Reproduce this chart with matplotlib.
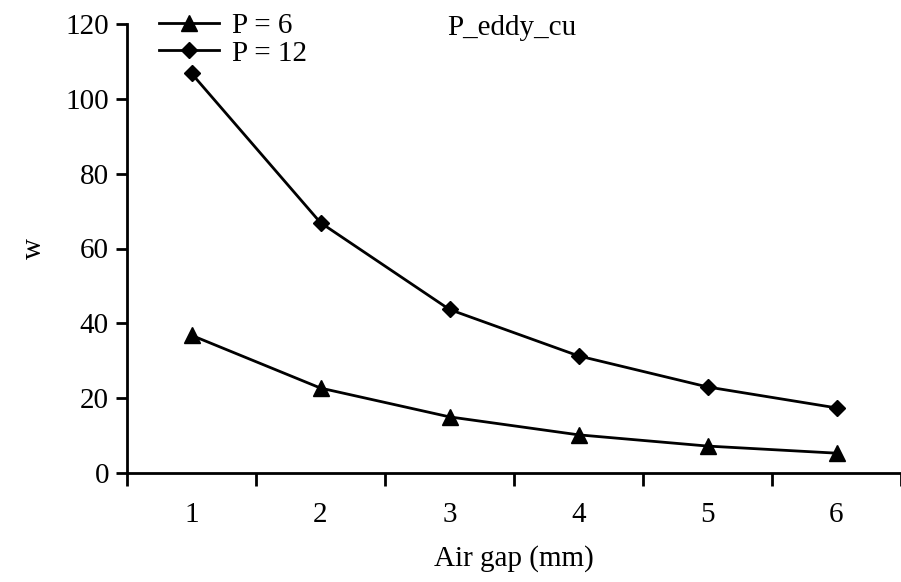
import matplotlib.pyplot as plt
import numpy as np

air_gap = [1, 2, 3, 4, 5, 6]
p6 = [36.8, 22.7, 15.0, 10.2, 7.2, 5.3]
p12 = [106.8, 66.9, 43.7, 31.3, 23.0, 17.4]
y_ticks = [0, 20, 40, 60, 80, 100, 120]

plt.rcParams['font.family'] = ['Liberation Serif', 'DejaVu Serif']
plt.rcParams['font.size'] = 21

fig = plt.figure(figsize=(9.01, 5.82), dpi=100)
ax = fig.add_axes([127 / 901, 1 - 473 / 582, 1 - 127 / 901, (473 - 24) / 582])

ax.plot(air_gap, p6, color='black', lw=2, marker='^', ms=11, label='P = 6')
ax.plot(air_gap, p12, color='black', lw=2, marker='D', ms=8, label='P = 12')

ax.set_xlim(0.5, 6.5)
ax.set_ylim(0, 120)
ax.set_yticks(y_ticks)
# tick marks sit between the labels, labels sit on the integers
ax.set_xticks(np.arange(0.5, 7.0, 1.0))
ax.set_xticklabels([])
ax.set_xticks(air_gap, minor=True)
ax.set_xticklabels([str(v) for v in air_gap], minor=True)
ax.tick_params(axis='x', which='major', direction='out', length=9, width=2)
ax.tick_params(axis='x', which='minor', length=0, pad=21)
ax.tick_params(axis='y', direction='out', length=8, width=2, pad=5)

for side in ['top', 'right']:
    ax.spines[side].set_visible(False)
for side in ['left', 'bottom']:
    ax.spines[side].set_linewidth(2)

ax.set_xlabel('Air gap (mm)', labelpad=12)
ax.set_ylabel('w', labelpad=13)

ax.text(0.414, 0.99, 'P_eddy_cu', transform=ax.transAxes, ha='left', va='center')
ax.legend(loc='upper left', bbox_to_anchor=(0.026, 1.052), frameon=False,
          handlelength=2.05, handletextpad=0.45, labelspacing=0.05, borderaxespad=0)

fig.savefig('out.png', dpi=100)
